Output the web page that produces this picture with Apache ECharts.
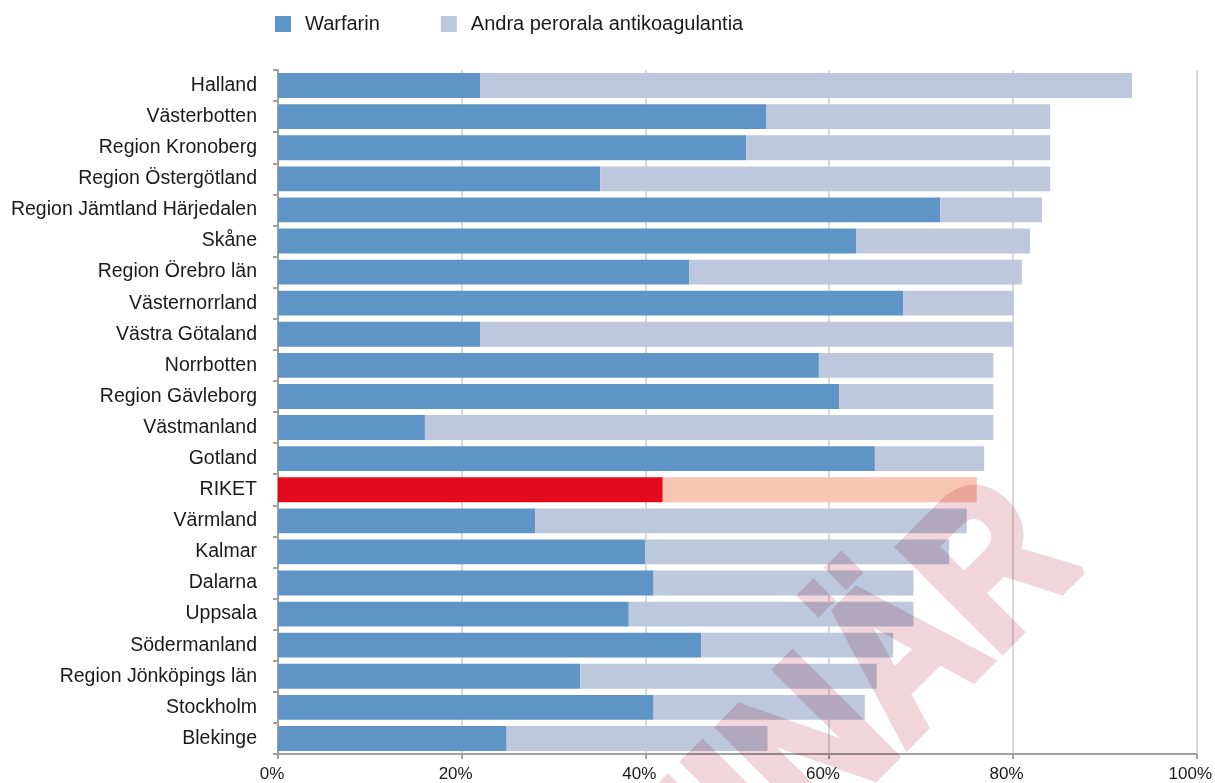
<!DOCTYPE html>
<html>
<head>
<meta charset="utf-8">
<script src="https://cdn.jsdelivr.net/npm/echarts@6/dist/echarts.min.js"></script>
<style>
  html, body { margin: 0; padding: 0; background: #ffffff; }
  #chart { width: 1215px; height: 783px; }
  /* the stamp layer tints whatever lies beneath it */
  #chart canvas[data-zr-dom-id="zr_1"] { mix-blend-mode: multiply; }
</style>
</head>
<body>
<div id="chart"></div>
<script>
// Andel patienter med perorala antikoagulantia per region (%)
const categories = [
  'Halland', 'Västerbotten', 'Region Kronoberg', 'Region Östergötland',
  'Region Jämtland Härjedalen', 'Skåne', 'Region Örebro län', 'Västernorrland',
  'Västra Götaland', 'Norrbotten', 'Region Gävleborg', 'Västmanland', 'Gotland',
  'RIKET', 'Värmland', 'Kalmar', 'Dalarna', 'Uppsala', 'Södermanland',
  'Region Jönköpings län', 'Stockholm', 'Blekinge'
];
const warfarin = [
  22.0, 53.2, 51.0, 35.1, 72.1, 63.0, 44.8, 68.1, 22.0, 58.9, 61.1,
  16.0, 65.0, 41.9, 28.0, 40.0, 40.9, 38.2, 46.1, 32.9, 40.9, 24.9
];
const andraOAK = [
  71.0, 30.9, 33.1, 49.0, 11.1, 18.9, 36.2, 12.0, 58.1, 19.0, 16.8,
  61.9, 11.9, 34.2, 47.0, 33.1, 28.3, 31.0, 20.9, 32.3, 23.0, 28.4
];
const seriesNames = ['Warfarin', 'Andra perorala antikoagulantia'];
const xTicks = { min: 0, max: 100, step: 20 };
const nationalLabel = 'RIKET';
const watermarkText = 'PRELIMINÄR';

const blue = '#5f94c7';
const lightBlue = '#bdc8dc';
const red = '#e30a1d';
const lightRed = '#f8c5b2';
const stampPink = '#f0d6db';
const font = 'Liberation Sans';

// the national total gets its own red pair of colours
function toData(values, highlightColor) {
  return values.map((v, i) => categories[i] === nationalLabel
    ? { value: v, itemStyle: { color: highlightColor } }
    : v);
}

const chart = echarts.init(document.getElementById('chart'), null, { renderer: 'canvas' });

chart.setOption({
  animation: false,
  backgroundColor: '#ffffff',
  textStyle: { fontFamily: font },
  legend: {
    left: 275,
    top: 14,
    padding: 0,
    icon: 'rect',
    itemWidth: 16,
    itemHeight: 16,
    itemGap: 61,
    textStyle: { fontSize: 20, color: '#1a1a1a', fontFamily: font, padding: [0, 0, 0, 9] },
    data: seriesNames
  },
  grid: { left: 278, right: 17, top: 70, bottom: 28, containLabel: false },
  xAxis: {
    type: 'value',
    min: xTicks.min,
    max: xTicks.max,
    interval: xTicks.step,
    axisLine: { show: true, lineStyle: { color: '#a0a0a0', width: 2 } },
    axisTick: { show: true, length: 5, lineStyle: { color: '#a0a0a0', width: 2 } },
    axisLabel: {
      formatter: '{value}%', fontSize: 17, color: '#1a1a1a', margin: 12,
      fontFamily: font, padding: [0, 12, 0, 0]
    },
    splitLine: { show: true, lineStyle: { color: '#d9d9d9', width: 2 } }
  },
  yAxis: {
    type: 'category',
    data: categories,
    inverse: true,
    axisLine: { show: true, lineStyle: { color: '#a0a0a0', width: 2 } },
    axisTick: { show: true, length: 5, lineStyle: { color: '#a0a0a0', width: 2 } },
    axisLabel: { fontSize: 19.5, color: '#1a1a1a', margin: 21, fontFamily: font },
    splitLine: { show: false }
  },
  series: [
    {
      name: seriesNames[0],
      type: 'bar',
      stack: 'total',
      barCategoryGap: '20%',
      itemStyle: { color: blue },
      data: toData(warfarin, red)
    },
    {
      name: seriesNames[1],
      type: 'bar',
      stack: 'total',
      barCategoryGap: '20%',
      itemStyle: { color: lightBlue },
      data: toData(andraOAK, lightRed)
    }
  ],
  graphic: [
    {
      // diagonal stamp on its own layer, multiplied over the plot
      type: 'text',
      zlevel: 1,
      x: 1043,
      y: 527,
      rotation: Math.PI / 4,
      scaleX: 0.84,
      silent: true,
      style: {
        text: watermarkText,
        font: 'bold 210px "Liberation Sans"',
        fill: stampPink,
        stroke: stampPink,
        lineWidth: 9,
        lineJoin: 'round',
        textAlign: 'right',
        textVerticalAlign: 'middle'
      }
    }
  ]
});
</script>
</body>
</html>
